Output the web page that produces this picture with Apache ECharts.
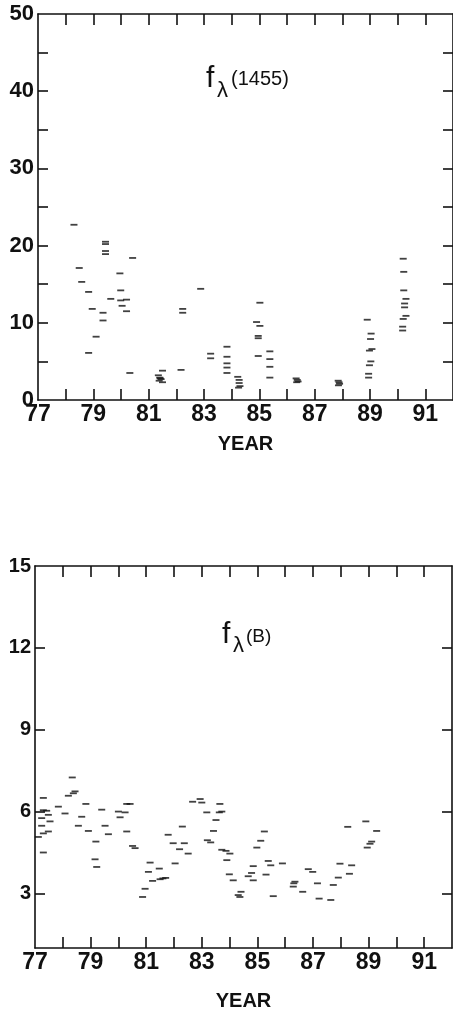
<!DOCTYPE html>
<html><head><meta charset="utf-8">
<script src="https://cdn.jsdelivr.net/npm/echarts@6/dist/echarts.min.js"></script>
<style>html,body{margin:0;padding:0;background:#fff}#c{width:453px;height:1017px}</style>
</head><body><div id="c"></div>
<script>
// ---- Top panel: f_lambda(1455) ----
var topYears = [78.30,78.49,78.58,78.83,78.96,78.83,79.10,79.35,79.35,79.44,79.44,79.44,79.44,79.63,79.96,79.99,79.99,80.04,80.20,80.20,80.42,80.32,
  81.35,81.40,81.45,81.38,81.50,81.42,81.50,82.17,82.23,82.23,82.88,83.24,83.24,
  83.83,83.83,83.83,83.83,83.83,84.22,84.27,84.27,84.30,84.25,
  85.02,84.90,85.02,84.96,84.96,84.96,85.38,85.38,85.38,85.38,
  86.33,86.37,86.40,86.35,87.85,87.88,87.90,87.86,
  88.90,89.04,89.02,89.07,88.98,89.03,88.98,88.95,88.95,
  90.20,90.22,90.22,90.30,90.25,90.25,90.30,90.20,90.18,90.18];
var topValues = [22.7,17.1,15.3,14.0,11.8,6.1,8.2,11.3,10.3,20.5,20.2,19.3,18.9,13.1,16.4,14.2,12.9,12.2,13.0,11.5,18.4,3.5,
  3.2,2.9,2.7,2.5,2.3,2.8,3.8,3.9,11.8,11.3,14.4,6.0,5.4,
  6.9,5.6,4.75,4.2,3.5,3.0,2.6,2.2,1.8,1.6,
  12.6,10.1,9.6,8.3,8.0,5.7,6.3,5.3,4.3,2.9,
  2.8,2.6,2.4,2.3,2.5,2.3,2.1,1.9,
  10.4,8.6,7.9,6.6,6.4,5.0,4.5,3.4,2.9,
  18.3,16.6,14.2,13.1,12.5,12.0,10.9,10.5,9.5,9.0];
var topYLabels = [0,10,20,30,40,50];
var topYTicks = [5,10,15,20,25,30,35,40,45];

// ---- Bottom panel: f_lambda(B) ----
var botYears = [77.30,77.30,77.42,77.48,77.24,77.54,77.24,77.48,77.30,77.12,77.30,77.84,78.08,78.34,78.20,78.38,78.44,78.68,78.56,78.83,78.92,
  79.19,79.16,79.22,79.40,79.52,79.64,80.00,80.24,80.06,80.30,80.42,80.30,80.51,80.60,
  80.87,80.96,81.08,81.14,81.23,81.47,81.50,81.60,81.70,81.79,81.97,82.04,82.20,82.30,82.37,82.51,
  82.67,82.94,83.00,83.18,83.20,83.32,83.42,83.51,83.63,83.65,83.72,83.72,83.87,83.90,83.99,84.01,
  84.13,84.41,84.31,84.37,84.67,84.79,84.85,84.85,84.98,85.12,85.25,85.31,85.39,85.48,85.57,85.90,
  86.35,86.29,86.31,86.63,86.83,86.99,87.16,87.22,87.64,87.73,87.91,87.97,88.25,88.31,88.39,
  88.90,89.29,89.11,89.05,88.95];
var botValues = [6.50,6.05,6.03,5.88,5.76,5.64,5.48,5.27,5.20,5.07,4.50,6.18,5.93,7.25,6.58,6.67,6.74,5.81,5.48,6.28,5.29,
  4.90,4.25,3.97,6.07,5.48,5.17,6.00,5.97,5.79,6.28,6.28,5.27,4.74,4.66,
  2.87,3.17,3.79,4.13,3.46,3.91,3.52,3.55,3.57,5.15,4.84,4.10,4.62,5.45,4.84,4.46,
  6.36,6.46,6.33,5.97,4.95,4.87,5.29,5.69,5.97,6.28,6.00,4.60,4.56,4.22,3.70,4.46,
  3.48,3.06,2.94,2.87,3.63,3.75,4.00,3.48,4.68,4.93,5.27,3.69,4.19,4.03,2.90,4.10,
  3.43,3.25,3.37,3.06,3.89,3.79,3.37,2.81,2.76,3.31,3.58,4.09,5.44,3.72,4.03,
  5.64,5.29,4.90,4.82,4.68];
var botYLabels = [3,6,9,12,15];
var botYTicks = [3,6,9,12];

var xLabelYears = [77,79,81,83,85,87,89,91];
var xTickYears = [78,79,80,81,82,83,84,85,86,87,88,89,90,91];

function pairs(xs, ys){ return xs.map(function(x,i){ return [x, ys[i]]; }); }

var FONT = '"Liberation Sans", Arial, sans-serif';
var lineStyle = {color:'#111', width:1.6};

function xAxes(gi){
  return [
    {type:'value', gridIndex:gi, position:'bottom', min:77, max:92,
     axisLine:{show:true, onZero:false, lineStyle:lineStyle},
     axisTick:{show:true, inside:true, length:11, lineStyle:lineStyle, customValues:xTickYears},
     axisLabel:{show:true, customValues:xLabelYears, margin:3, color:'#111', fontFamily:FONT, fontWeight:'bold', fontSize:23},
     splitLine:{show:false},
     name:'YEAR', nameLocation:'middle', nameGap: gi===0 ? 34 : 43,
     nameTextStyle:{color:'#111', fontFamily:FONT, fontWeight:'bold', fontSize:20}},
    {type:'value', gridIndex:gi, position:'top', min:77, max:92,
     axisLine:{show:true, onZero:false, lineStyle:lineStyle},
     axisTick:{show:true, inside:true, length:11, lineStyle:lineStyle, customValues:xTickYears},
     axisLabel:{show:false}, splitLine:{show:false}}
  ];
}
function yAxes(gi, min, max, labels, ticks, fs){
  return [
    {type:'value', gridIndex:gi, position:'left', min:min, max:max,
     axisLine:{show:true, onZero:false, lineStyle:lineStyle},
     axisTick:{show:true, inside:true, length:10, lineStyle:lineStyle, customValues:ticks},
     axisLabel:{show:true, customValues:labels, margin:4, color:'#111', fontFamily:FONT, fontWeight:'bold', fontSize:fs},
     splitLine:{show:false}},
    {type:'value', gridIndex:gi, position:'right', min:min, max:max,
     axisLine:{show:true, onZero:false, lineStyle:lineStyle},
     axisTick:{show:true, inside:true, length:10, lineStyle:lineStyle, customValues:ticks},
     axisLabel:{show:false}, splitLine:{show:false}}
  ];
}

var chart = echarts.init(document.getElementById('c'), null, {renderer:'canvas'});
chart.setOption({
  animation:false,
  backgroundColor:'#fff',
  grid:[
    {left:38, top:14, width:419, height:386},
    {left:35, top:566, width:417, height:382}
  ],
  xAxis: xAxes(0).concat(xAxes(1)),
  yAxis: yAxes(0,0,50,topYLabels,topYTicks,22).concat(yAxes(1,1,15,botYLabels,botYTicks,20)),
  series:[
    {type:'scatter', xAxisIndex:0, yAxisIndex:0, data:pairs(topYears, topValues),
     symbol:'rect', symbolSize:[7,1.8], itemStyle:{color:'#111'}},
    {type:'scatter', xAxisIndex:2, yAxisIndex:2, data:pairs(botYears, botValues),
     symbol:'rect', symbolSize:[7,1.8], itemStyle:{color:'#111'}}
  ],
  graphic:[
    {type:'text', left:206, top:64, style:{text:'f', fill:'#111', font:'30px '+FONT}},
    {type:'text', left:217, top:80, style:{text:'λ', fill:'#111', font:'22px '+FONT}},
    {type:'text', left:231, top:69, style:{text:'(1455)', fill:'#111', font:'20px '+FONT}},
    {type:'text', left:222, top:620, style:{text:'f', fill:'#111', font:'30px '+FONT}},
    {type:'text', left:233, top:635, style:{text:'λ', fill:'#111', font:'22px '+FONT}},
    {type:'text', left:246, top:627, style:{text:'(B)', fill:'#111', font:'19px '+FONT}}
  ]
});
</script>
</body></html>
